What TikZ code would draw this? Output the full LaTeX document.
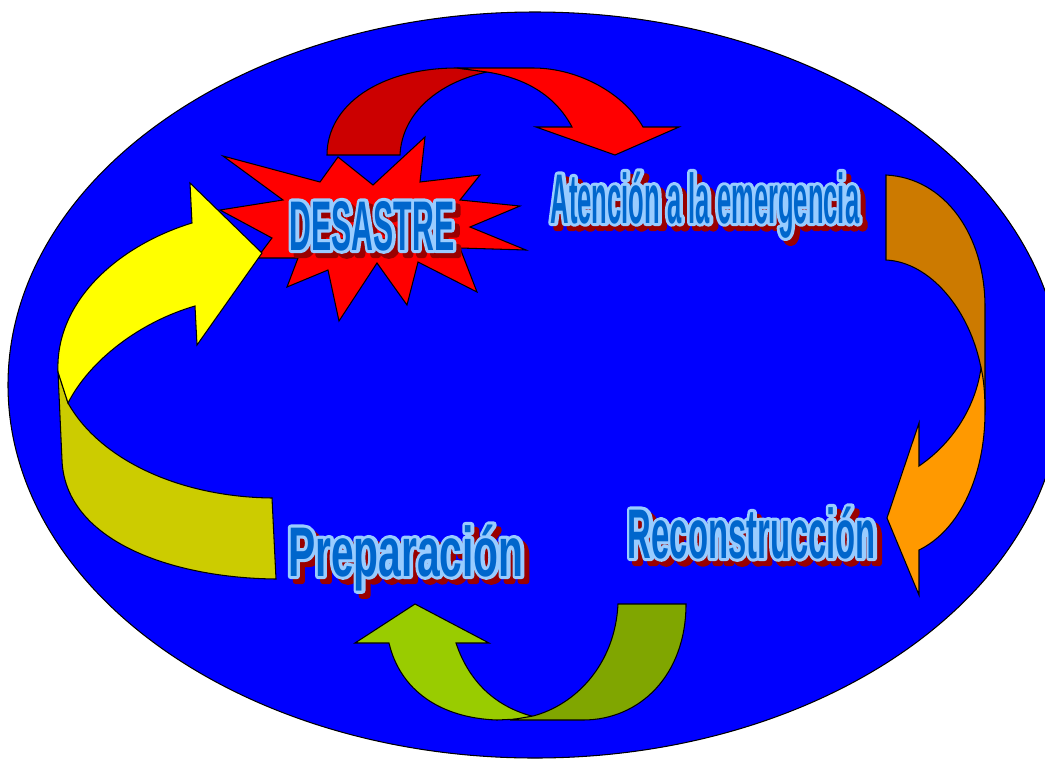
\documentclass[tikz,border=0pt]{standalone}
\usepackage{fontspec}
\setmainfont{Liberation Sans}
\usetikzlibrary{calc}
\definecolor{backblue}{RGB}{0,0,255}
\definecolor{reddark}{RGB}{204,0,0}
\definecolor{redlight}{RGB}{255,0,0}
\definecolor{orangedark}{RGB}{204,122,0}
\definecolor{orangelight}{RGB}{255,153,0}
\definecolor{greendark}{RGB}{128,166,0}
\definecolor{greenlight}{RGB}{153,204,0}
\definecolor{yellowdark}{RGB}{204,204,0}
\definecolor{yellowlight}{RGB}{255,255,0}
\definecolor{labelblue}{RGB}{0,102,204}
\definecolor{labellight}{RGB}{153,204,255}
\definecolor{labelred}{RGB}{153,0,0}
\tikzset{
  shapeline/.style={draw=black, line width=0.6pt, line join=miter},
  labelfont/.style={font=\fontsize{40}{40}\selectfont\bfseries,
                    inner sep=0pt, anchor=base},
  labelshadow/.style={labelfont, text=labelred},
  labelhalo/.style={labelfont, text=labellight},
  labeltext/.style={labelfont, text=labelblue}
}
% glyphs filled and stroked with a wide pen
\newcommand{\outlined}[1]{\special{pdf:literal direct 2 Tr 3.6 w 1 j}#1\special{pdf:literal direct 0 Tr}}
% name, base point, horizontal squeeze, text
\newcommand{\phaselabel}[4]{%
  \node[labelshadow] (#1-shadow) at ($(#2)+(5,5)$) {\addfontfeature{FakeStretch=#3}\outlined{#4}};
  \node[labelhalo] (#1-halo) at (#2) {\addfontfeature{FakeStretch=#3}\outlined{#4}};
  \node[labeltext] (#1) at (#2) {\addfontfeature{FakeStretch=#3}#4};
}
\begin{document}
\begin{tikzpicture}[x=0.02cm, y=-0.02cm]

  \useasboundingbox (0,0) rectangle (1045,758);
  \clip (0,0) rectangle (1045,758);

  %% Background
  \path[shapeline, fill=backblue] (535,385) ellipse [x radius=527, y radius=373];

  %% Burst behind DESASTRE
  \path[shapeline, fill=redlight]
    (223,156) -- (320,182) -- (338,157) -- (373,185) -- (425,137) -- (420,182)
    -- (480,175) -- (460,200) -- (520,206) -- (470,227) -- (526,250) -- (460,248)
    -- (477,292) -- (418,262) -- (407,305) -- (377,263) -- (339,321) -- (328,270)
    -- (287,287) -- (298,258) -- (257,258) -- (272,238) -- (220,210) -- (283,200)
    -- cycle;

  %% Top arrow: disaster -> emergency
  \path[shapeline, fill=reddark]
    (327,155) .. controls (327,105) and (380,68) .. (457,68) -- (487,72)
    .. controls (440,82) and (402,112) .. (400,155) -- cycle;
  \path[shapeline, fill=redlight]
    (457,68) -- (533,68) .. controls (580,68) and (625,95) .. (643,127)
    -- (679,127) -- (615,155) -- (536,127) -- (572,127)
    .. controls (555,95) and (525,78) .. (487,72) -- cycle;

  %% Right arrow: emergency -> reconstruction
  \path[shapeline, fill=orangedark]
    (886,175) -- (886,260) .. controls (930,262) and (970,310) .. (981,368)
    -- (985,412) -- (985,307) .. controls (985,235) and (945,178) .. (886,175) -- cycle;
  \path[shapeline, fill=orangelight]
    (981,368) .. controls (984,380) and (985,395) .. (985,412)
    .. controls (985,475) and (960,530) .. (919,550) -- (919,595) -- (887,518)
    -- (919,423) -- (919,466) .. controls (950,445) and (975,410) .. (981,368) -- cycle;

  %% Bottom arrow: reconstruction -> preparation
  \path[shapeline, fill=greenlight]
    (355,643) -- (415,604) -- (489,643) -- (456,643)
    .. controls (470,685) and (500,710) .. (540,718) -- (497,720)
    .. controls (440,718) and (400,690) .. (389,643) -- cycle;
  \path[shapeline, fill=greendark]
    (618,604) -- (686,604) .. controls (686,675) and (640,720) .. (583,720)
    -- (510,720) -- (533,716) .. controls (575,705) and (615,665) .. (618,604) -- cycle;

  %% Left arrow: preparation -> disaster
  \path[shapeline, fill=yellowdark]
    (272,498) -- (276,579) .. controls (170,578) and (65,540) .. (62,460)
    -- (58,372) -- (68,403) .. controls (100,460) and (180,497) .. (272,498) -- cycle;
  \path[shapeline, fill=yellowlight]
    (58,372) .. controls (55,300) and (120,245) .. (192,223) -- (190,183)
    -- (262,253) -- (197,345) -- (195,306)
    .. controls (140,322) and (90,360) .. (68,403) -- cycle;

  %% Phase labels
  \phaselabel{desastre}{372,250}{0.43}{DESASTRE}
  \phaselabel{atencion}{705,223}{0.364}{Atención a la emergencia}
  \phaselabel{reconstruccion}{752,558}{0.467}{Reconstrucción}
  \phaselabel{preparacion}{406,576}{0.58}{Preparación}

\end{tikzpicture}
\end{document}
